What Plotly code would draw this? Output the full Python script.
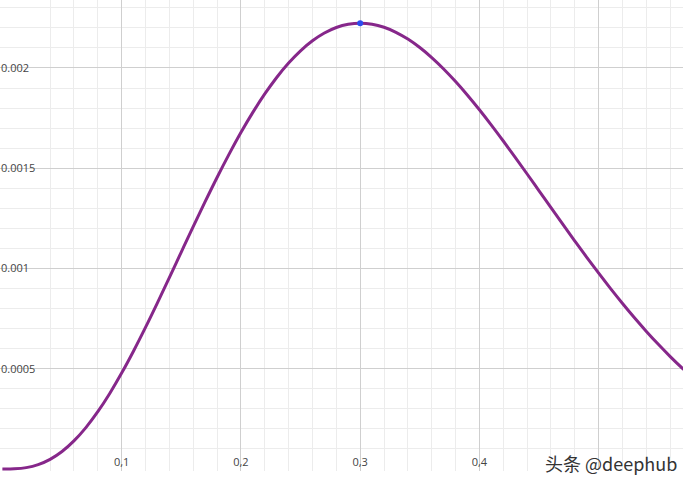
import plotly.graph_objects as go

# values (likelihood-like curve)
x_vals = [0.00, 0.01, 0.02, 0.03, 0.04, 0.05, 0.06, 0.07, 0.08, 0.09,
          0.10, 0.11, 0.12, 0.13, 0.14, 0.15, 0.16, 0.17, 0.18, 0.19,
          0.20, 0.21, 0.22, 0.23, 0.24, 0.25, 0.26, 0.27, 0.28, 0.29,
          0.30, 0.31, 0.32, 0.33, 0.34, 0.35, 0.36, 0.37, 0.38, 0.39,
          0.40, 0.41, 0.42, 0.43, 0.44, 0.45, 0.46, 0.47, 0.48, 0.49,
          0.50, 0.51, 0.52, 0.53, 0.54, 0.55, 0.56, 0.57, 0.58]
y_vals = [0.0, 0.0000009, 0.0000069, 0.0000218, 0.0000481, 0.0000873,
          0.0001401, 0.0002064, 0.0002856, 0.0003768, 0.0004783, 0.0005887,
          0.0007062, 0.0008288, 0.0009547, 0.0010820, 0.0012087, 0.0013332,
          0.0014539, 0.0015691, 0.0016780, 0.0017785, 0.0018704, 0.0019527,
          0.0020245, 0.0020857, 0.0021357, 0.0021744, 0.0022020, 0.0022182,
          0.0022236, 0.0022184, 0.0022030, 0.0021780, 0.0021441, 0.0021018,
          0.0020519, 0.0019952, 0.0019324, 0.0018642, 0.0017916, 0.0017152,
          0.0016358, 0.0015543, 0.0014712, 0.0013873, 0.0013033, 0.0012196,
          0.0011370, 0.0010558, 0.0009766, 0.0008997, 0.0008255, 0.0007542,
          0.0006863, 0.0006217, 0.0005607, 0.0005034, 0.0004498]
peak_x = [0.30]
peak_y = [0.0022236]

x_ticks = [0.0, 0.1, 0.2, 0.3, 0.4, 0.5]
x_ticktext = ["", "0,1", "0,2", "0,3", "0,4", ""]
y_ticks = [0.0, 0.0005, 0.001, 0.0015, 0.002]
y_ticktext = ["", "0.0005", "0.001", "0.0015", "0.002"]

fig = go.Figure()
fig.add_trace(go.Scatter(x=x_vals, y=y_vals, mode="lines",
                         line=dict(color="#86278a", width=3, shape="spline"),
                         hoverinfo="skip"))
fig.add_trace(go.Scatter(x=peak_x, y=peak_y, mode="markers",
                         marker=dict(color="#2a4cf0", size=6),
                         hoverinfo="skip"))

fig.update_layout(
    width=692, height=488,
    margin=dict(l=0, r=9, t=0, b=17),
    paper_bgcolor="white", plot_bgcolor="white",
    showlegend=False,
    font=dict(family="Open Sans", size=11, color="#333333"),
    xaxis=dict(range=[-0.002, 0.5707], tickmode="array", tickvals=x_ticks,
               ticktext=x_ticktext, ticklabelposition="inside",
               automargin=False,
               showgrid=True, gridcolor="#cfcfcf", gridwidth=1,
               zeroline=False, showline=False, ticks="",
               minor=dict(dtick=0.02, tick0=0, showgrid=True,
                          gridcolor="#ececec", gridwidth=1)),
    yaxis=dict(range=[-0.00001, 0.002339], tickmode="array", tickvals=y_ticks,
               ticktext=y_ticktext, ticklabelposition="inside",
               ticklabelstandoff=-2, automargin=False,
               showgrid=True, gridcolor="#cfcfcf", gridwidth=1,
               zeroline=False, showline=False, ticks="",
               minor=dict(dtick=0.0001, tick0=0, showgrid=True,
                          gridcolor="#ececec", gridwidth=1)),
    annotations=[dict(text="头条 @deephub", xref="paper", yref="paper",
                      x=0.994, y=0.017, xanchor="right", yanchor="middle",
                      showarrow=False,
                      font=dict(family="Noto Sans CJK SC", size=18,
                                color="#333333",
                                shadow="1px 1px 1px white"))],
)

fig.write_html("out.html", config={"displayModeBar": False},
               post_script="document.body.style.margin='0';document.body.style.padding='0';")
